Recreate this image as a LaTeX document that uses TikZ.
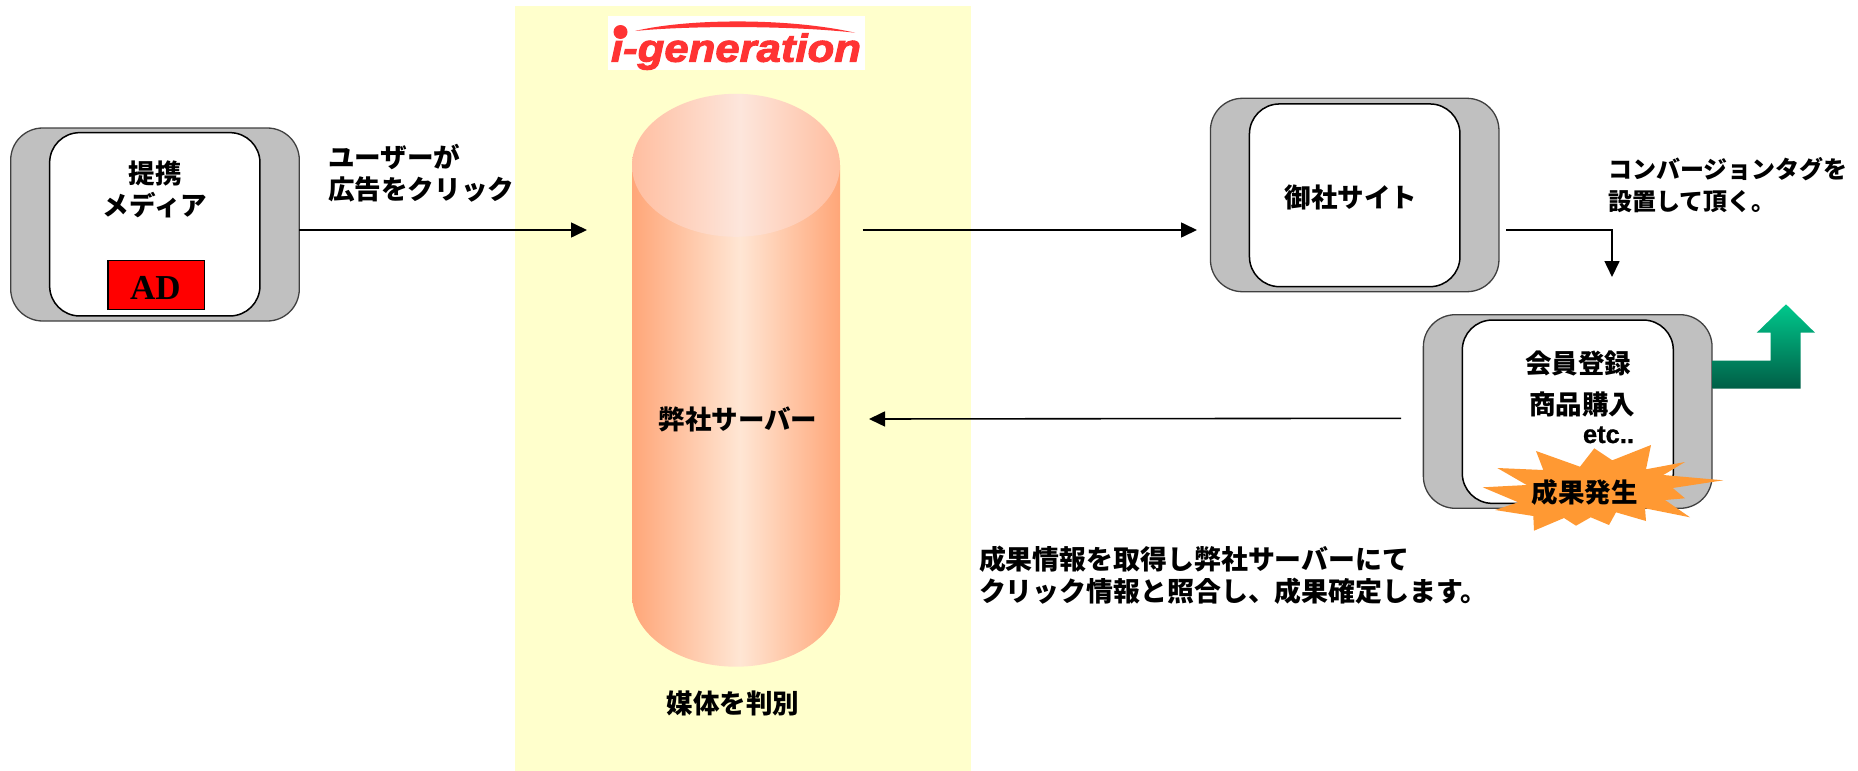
\documentclass[tikz,border=0pt]{standalone}
\usepackage{fontspec}
\setmainfont{Noto Sans CJK JP}
\newfontfamily\latinsans{Liberation Sans}[BoldFeatures={FakeBold=0.8}]
\newfontfamily\latinserif{Liberation Serif}
\newfontfamily\logofont{Liberation Sans}[BoldItalicFeatures={FakeBold=2.6,FakeStretch=1.12}]
\usetikzlibrary{arrows.meta,calc}
\definecolor{panelyellow}{HTML}{FFFFCC}
\definecolor{boxgray}{HTML}{C0C0C0}
\definecolor{logored}{HTML}{FF3333}
\definecolor{burst}{HTML}{FF9933}
\definecolor{cyledge}{RGB}{255,166,120}
\definecolor{cylmid}{RGB}{255,230,212}
\definecolor{capedge}{RGB}{255,190,160}
\definecolor{capmid}{RGB}{253,230,220}
\definecolor{arrowtop}{RGB}{0,200,140}
\definecolor{arrowbot}{RGB}{0,94,70}
\pgfdeclarehorizontalshading{cylbody}{100bp}{color(0bp)=(cyledge); color(25bp)=(cyledge); color(51bp)=(cylmid); color(75bp)=(cyledge); color(100bp)=(cyledge)}
\pgfdeclarehorizontalshading{cylcap}{100bp}{color(0bp)=(capedge); color(25bp)=(capedge); color(51bp)=(capmid); color(75bp)=(capedge); color(100bp)=(capedge)}
\tikzset{
  outerbox/.style={draw=black!75,line width=1.3pt,fill=boxgray,rounded corners=32pt,inner sep=0pt,outer sep=0pt},
  innerbox/.style={draw=black,line width=1.5pt,fill=white,rounded corners=30pt,inner sep=0pt,outer sep=0pt},
  lbl/.style={inner sep=0pt,outer sep=0pt,font=\fontsize{26.5}{27}\selectfont\bfseries,text height=23pt,text depth=3pt},
  lbltwo/.style={inner sep=0pt,outer sep=0pt,font=\fontsize{26.6}{32}\selectfont\bfseries,align=left,anchor=west},
  flow/.style={line width=1.6pt,-{Triangle[length=16pt,width=15pt]}},
}
\begin{document}
\begin{tikzpicture}[x=1pt,y=-1pt]
\useasboundingbox (0,0) rectangle (1858,771);
\fill[panelyellow] (515,6) rectangle (971,771);
% logo
\fill[white] (607.7,16) rectangle (865,70);
\node[inner sep=0pt,outer sep=0pt,anchor=base west,text=logored,font=\logofont\fontsize{39}{40}\selectfont\bfseries\itshape] (logo) at (611,61.7) {i-generation};
\fill[logored] (635,31) .. controls (690,18) and (790,18) .. (855,32.7) .. controls (790,25.5) and (690,25.5) .. (635,31) -- cycle;
\fill[logored] (620.5,32) circle (7);
% cylinder
\shade[shading=cylbody]
  (632,165) -- (840,165) -- (840,595) arc[start angle=0,end angle=180,x radius=104,y radius=71.7] -- cycle;
\shade[shading=cylcap]
  (736,165.3) ellipse[x radius=104,y radius=71.5];
\node[lbl] (server) at (738,419) {弊社サーバー};
\node[lbl] (judge) at (733,703) {媒体を判別};
% boxes
\node[outerbox,minimum width=288.6pt,minimum height=193pt] (mediaouter) at (155,224.5) {};
\node[innerbox,minimum width=210.3pt,minimum height=183.3pt] (mediainner) at (154.8,224.3) {};
\node[draw=black,line width=1.5pt,fill=red,inner sep=0pt,outer sep=0pt,minimum width=96.7pt,minimum height=48.6pt] (ad) at (156.3,285) {};
\node[inner sep=0pt,outer sep=0pt,font=\latinserif\fontsize{35}{35}\selectfont\bfseries] (adtext) at (155.5,288) {AD};
\node[lbl] (m1) at (155,173) {提携};
\node[lbl] (m2) at (155,205) {メディア};
\node[outerbox,minimum width=288.5pt,minimum height=193.4pt] (siteouter) at (1354.7,195) {};
\node[innerbox,minimum width=210.5pt,minimum height=182.7pt] (siteinner) at (1354.7,195.3) {};
\node[lbl] (sitelabel) at (1351,197.5) {御社サイト};
\node[outerbox,minimum width=288.7pt,minimum height=193.6pt] (goalouter) at (1567.7,411.5) {};
\node[innerbox,minimum width=211pt,minimum height=183.3pt] (goalinner) at (1567.8,411.7) {};
\node[lbl] (g1) at (1578.3,363) {会員登録};
\node[lbl] (g2) at (1582,404) {商品購入};
\node[inner sep=0pt,outer sep=0pt,anchor=base east,font=\latinsans\fontsize{25.5}{26}\selectfont\bfseries] (g3) at (1634,443) {etc..};
% green arrow
\shade[top color=arrowtop,bottom color=arrowbot]
  (1712.3,360.7) -- (1770.7,360.7) -- (1770.7,332.7) -- (1756.7,332.7) -- (1786,304.3) -- (1815,332.7) -- (1800.7,332.7) -- (1800.7,388.7) -- (1712.3,388.7) -- cycle;
% burst
\fill[burst] (1651,445) -- (1646,469.3) -- (1685,462) -- (1663.3,475) -- (1723.3,480.3) -- (1672.7,488) -- (1685,498.3) -- (1665,500) -- (1690,517.3) -- (1645,508.3) -- (1646,521) -- (1616,512.3) -- (1609,525) -- (1590.7,517.3) -- (1576,525.7) -- (1564,518) -- (1534,530.7) -- (1533.3,516) -- (1495,510) -- (1518.3,502.3) -- (1482.7,487.3) -- (1526.7,485) -- (1497.3,468) -- (1543.3,470) -- (1536,451) -- (1580,466.7) -- (1594.3,448.3) -- (1612.3,460.3) -- cycle;
\node[lbl] (burstlabel) at (1584.7,492.5) {成果発生};
% texts
\node[lbltwo] (clicktext) at (328,173.5) {ユーザーが\\広告をクリック};
\node[lbltwo,font=\fontsize{24}{32}\selectfont\bfseries] (tagtext) at (1608,185) {コンバージョンタグを\\設置して頂く。};
\node[lbltwo,font=\fontsize{26.9}{32}\selectfont\bfseries] (resulttext) at (979,575.5) {成果情報を取得し弊社サーバーにて\\クリック情報と照合し、成果確定します。};
% connectors
\coordinate (inend) at (587,230);
\coordinate (outstart) at (862.7,230);
\coordinate (siteend) at (1197,230);
\coordinate (tagstart) at (1506,230);
\coordinate (tagcorner) at (1612,230);
\coordinate (tagend) at (1612,277);
\coordinate (backstart) at (1401,418.3);
\coordinate (backend) at (869,419);
\draw[flow] (mediaouter.east |- inend) -- (inend);
\draw[flow] (outstart) -- (siteend);
\draw[flow,line join=miter] (tagstart) -- (tagcorner) -- (tagend);
\draw[flow] (backstart) -- (backend);
\end{tikzpicture}
\end{document}
